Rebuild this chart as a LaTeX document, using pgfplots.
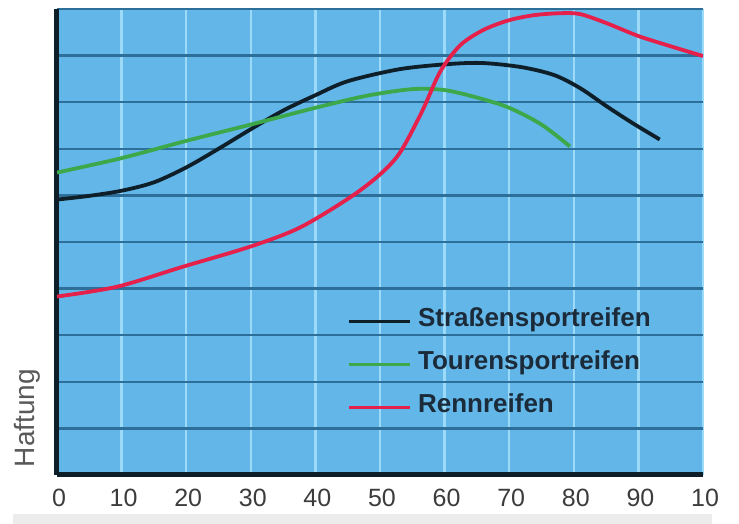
\documentclass[border=0pt]{standalone}
\usepackage{fontspec}
\setmainfont{Liberation Sans}
\usepackage{pgfplots}
\pgfplotsset{compat=1.18}
\definecolor{bgblue}{HTML}{62B6E8}
\definecolor{gridDark}{HTML}{2D6F99}
\definecolor{gridLight}{HTML}{9CDAF8}
\definecolor{cBlack}{HTML}{0F1F2A}
\definecolor{cGreen}{HTML}{3DA84A}
\definecolor{cRed}{HTML}{E5204A}
\definecolor{legText}{HTML}{1C2B3A}
\definecolor{tickGray}{HTML}{3C3C3C}
\definecolor{bandGray}{HTML}{ECECEC}
\begin{document}
\begin{tikzpicture}
\path[use as bounding box, fill=white] (-57pt,-49pt) rectangle (682pt,475pt);
\fill[bandGray] (-44pt,-49pt) rectangle (655pt,-39pt);
\begin{axis}[
  at={(0,0)}, anchor=south west,
  scale only axis, width=646pt, height=466pt,
  xmin=0, xmax=100, ymin=0, ymax=10,
  axis background/.style={fill=bgblue},
  axis x line=bottom, axis y line=left,
  axis line style={-, line width=5pt, color=cBlack},
  xtick={0,10,20,30,40,50,60,70,80,90,100},
  xticklabels={0,10,20,30,40,50,60,70,80,90,10},
  ytick={0,1,2,3,4,5,6,7,8,9,10},
  yticklabels={},
  major tick length=0pt,
  xmajorgrids, ymajorgrids,
  x grid style={gridLight, line width=2.5pt},
  y grid style={gridDark, line width=2.5pt},
  xticklabel style={font=\fontsize{25}{25}\selectfont, text=tickGray, yshift=-11pt, xshift=2pt},
  legend style={at={(axis cs:44.9,3.58)}, anchor=north west, draw=none, fill=none,
    inner sep=0pt, outer sep=0pt, row sep=20pt,
    font=\bfseries\fontsize{26}{26}\selectfont, text=legText,
    nodes={inner sep=0pt, text height=18pt, text depth=5pt},
    /tikz/every odd column/.style={column sep=7pt}},
  legend cell align=left,
  legend image code/.code={\draw[#1, line width=3pt] (0pt,-2pt) -- (61pt,-2pt);},
  every axis plot/.append style={line width=3.8pt, smooth, tension=0.5},
]
\addplot[cBlack] coordinates {(0,5.91) (5,5.99) (10,6.1) (15,6.28) (20,6.6) (25,7.0) (30,7.42) (35,7.82) (40,8.15) (45,8.45) (53.1,8.71) (60.8,8.82) (66,8.84) (72,8.75) (77,8.58) (81,8.3) (85,7.92) (89,7.56) (93.3,7.2)};
\addlegendentry{Straßensportreifen}
\addplot[cGreen] coordinates {(0,6.49) (10,6.8) (20,7.17) (30,7.52) (40,7.88) (48,8.14) (55,8.28) (60,8.26) (65,8.1) (70,7.88) (75,7.52) (79.4,7.05)};
\addlegendentry{Tourensportreifen}
\addplot[cRed] coordinates {(0,3.83) (9.3,4.04) (19.5,4.47) (29.9,4.9) (37.6,5.31) (45.4,5.96) (50,6.45) (53.1,6.92) (56.5,7.8) (59.3,8.65) (62.4,9.22) (66,9.55) (70,9.76) (74,9.87) (78,9.91) (81,9.89) (85,9.7) (90,9.42) (95,9.2) (100,8.99)};
\addlegendentry{Rennreifen}
\end{axis}
\node[rotate=90, font=\fontsize{28}{28}\selectfont, text=tickGray!85] at (-30pt,57pt) {Haftung};
\end{tikzpicture}
\end{document}
